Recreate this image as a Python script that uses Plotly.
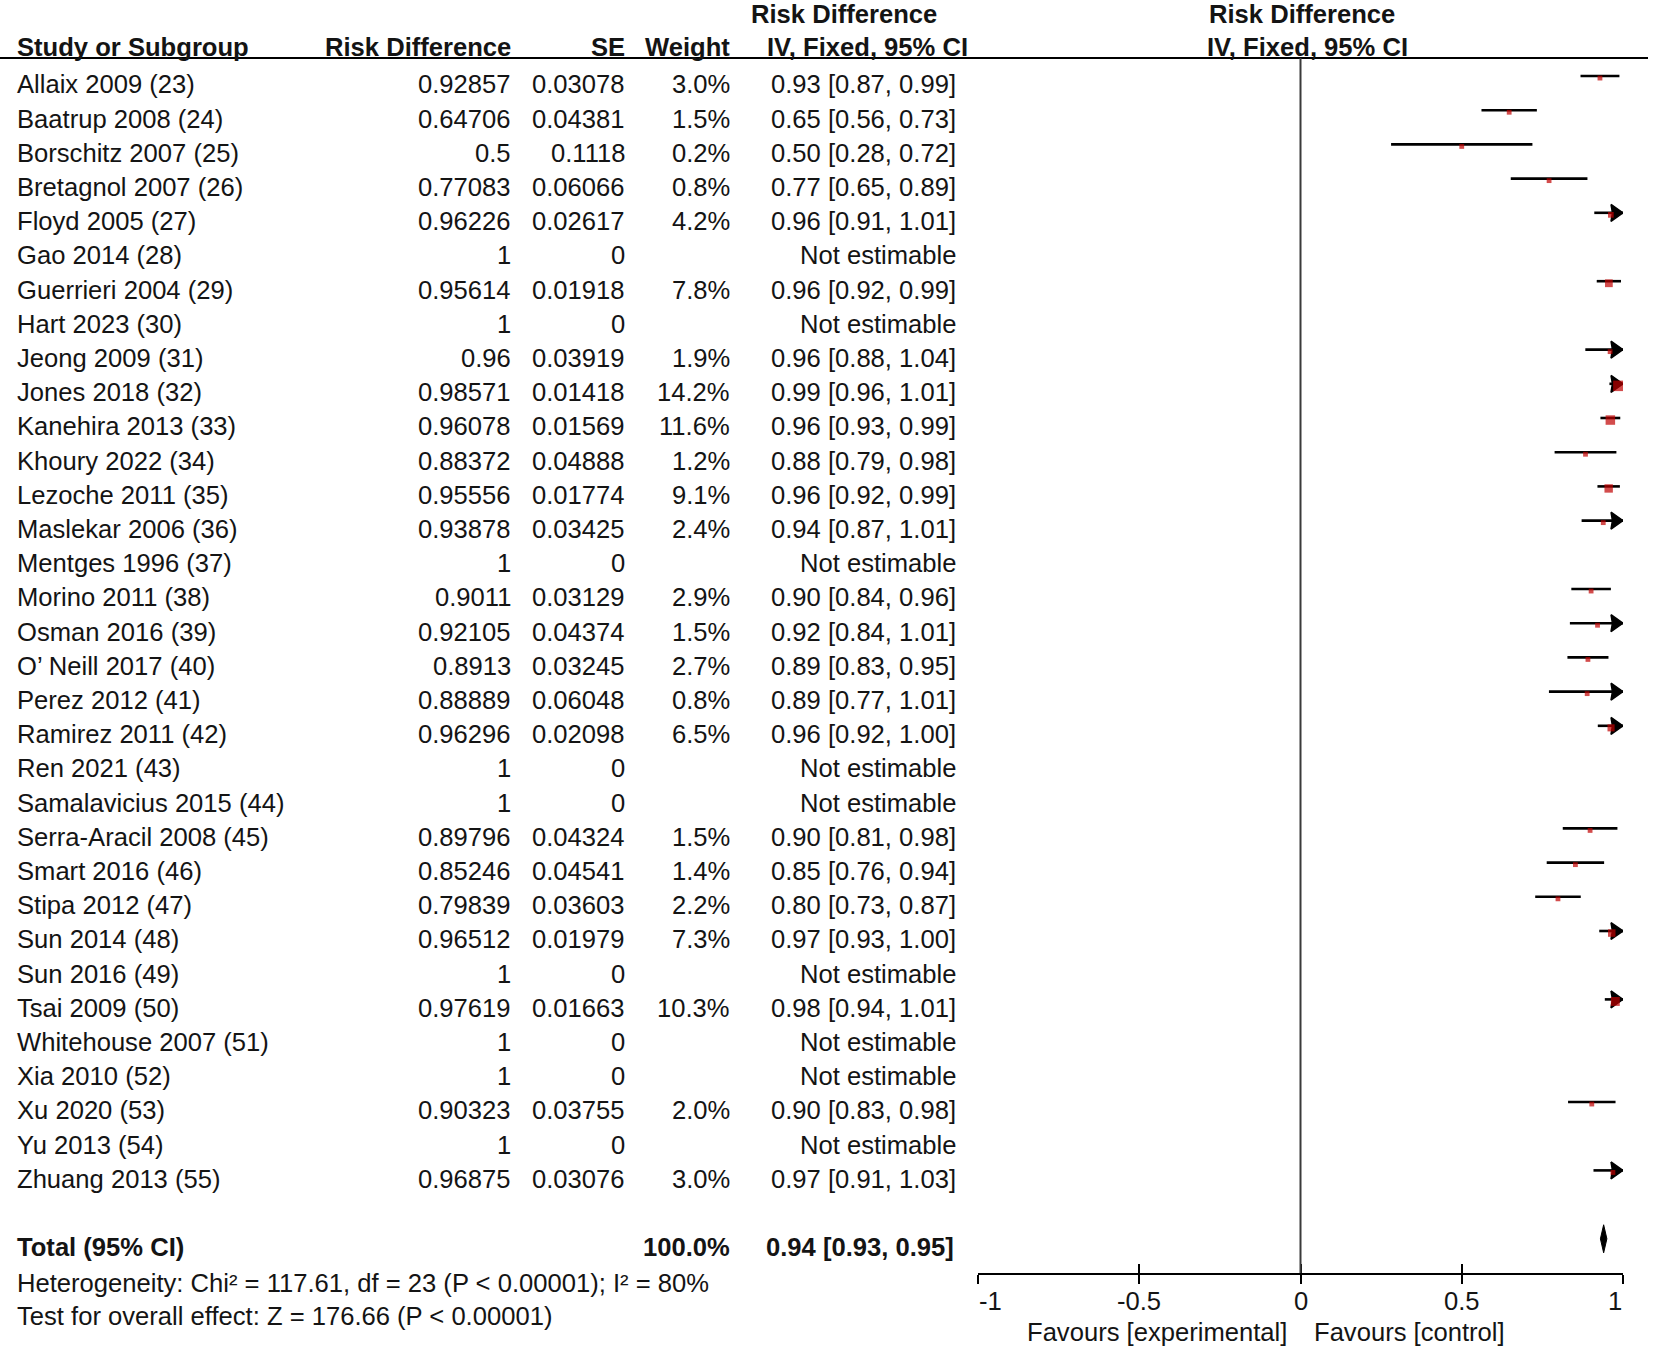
import plotly.graph_objects as go

studies = ["Allaix 2009 (23)", "Baatrup 2008 (24)", "Borschitz 2007 (25)", "Bretagnol 2007 (26)",
           "Floyd 2005 (27)", "Gao 2014 (28)", "Guerrieri 2004 (29)", "Hart 2023 (30)",
           "Jeong 2009 (31)", "Jones 2018 (32)", "Kanehira 2013 (33)", "Khoury 2022 (34)",
           "Lezoche 2011 (35)", "Maslekar 2006 (36)", "Mentges 1996 (37)", "Morino 2011 (38)",
           "Osman 2016 (39)", "O’ Neill 2017 (40)", "Perez 2012 (41)", "Ramirez 2011 (42)",
           "Ren 2021 (43)", "Samalavicius 2015 (44)", "Serra-Aracil 2008 (45)", "Smart 2016 (46)",
           "Stipa 2012 (47)", "Sun 2014 (48)", "Sun 2016 (49)", "Tsai 2009 (50)",
           "Whitehouse 2007 (51)", "Xia 2010 (52)", "Xu 2020 (53)", "Yu 2013 (54)", "Zhuang 2013 (55)"]
rd = [0.92857, 0.64706, 0.5, 0.77083, 0.96226, 1, 0.95614, 1, 0.96, 0.98571, 0.96078, 0.88372,
      0.95556, 0.93878, 1, 0.9011, 0.92105, 0.8913, 0.88889, 0.96296, 1, 1, 0.89796, 0.85246,
      0.79839, 0.96512, 1, 0.97619, 1, 1, 0.90323, 1, 0.96875]
se = [0.03078, 0.04381, 0.1118, 0.06066, 0.02617, 0, 0.01918, 0, 0.03919, 0.01418, 0.01569, 0.04888,
      0.01774, 0.03425, 0, 0.03129, 0.04374, 0.03245, 0.06048, 0.02098, 0, 0, 0.04324, 0.04541,
      0.03603, 0.01979, 0, 0.01663, 0, 0, 0.03755, 0, 0.03076]
weight = [3.0, 1.5, 0.2, 0.8, 4.2, None, 7.8, None, 1.9, 14.2, 11.6, 1.2, 9.1, 2.4, None, 2.9,
          1.5, 2.7, 0.8, 6.5, None, None, 1.5, 1.4, 2.2, 7.3, None, 10.3, None, None, 2.0, None, 3.0]
total_est, total_lo, total_hi = 0.94, 0.93, 0.95
total_label = "Total (95% CI)"
total_weight = "100.0%"
heterogeneity = "Heterogeneity: Chi² = 117.61, df = 23 (P < 0.00001); I² = 80%"
overall = "Test for overall effect: Z = 176.66 (P < 0.00001)"
tick_vals = [-1, -0.5, 0, 0.5, 1]
tick_text = ["-1", "-0.5", "0", "0.5", "1"]
favours_left = "Favours [experimental]"
favours_right = "Favours [control]"

W, H = 1654, 1346
FONT = "Liberation Sans, Arial, sans-serif"
FS = 25.6
TXT = "#141414"
RED = "#c00000"

def px(x):
    return x / W

def py(y):
    return 1 - y / H

n = len(studies)
total_row = 34
TEXT_OFF = 0.245

# plot geometry (pixels)
X0_PX, X1_PX = 978, 1623
ROW0_PX, ROW_STEP = 76, 34.2
TOP_PX, AXIS_PX = 58, 1273
PX_PER_UNIT = (X1_PX - X0_PX) / 2.0

fig = go.Figure()
ann = []

def add_text(x, y, text, xanchor="left", bold=False, yref="y", xref="paper"):
    ann.append(dict(x=x, y=y, xref=xref, yref=yref, text=("<b>%s</b>" % text) if bold else text,
                    showarrow=False, xanchor=xanchor, yanchor="middle", borderpad=0,
                    font=dict(family=FONT, size=FS, color=TXT)))

# Headers
add_text(px(844), py(14), "<b>Risk Difference</b>", "center", yref="paper")
add_text(px(16), py(47), "<b>Study or Subgroup</b>", "left", yref="paper")
add_text(px(512), py(47), "<b>Risk Difference</b>", "right", yref="paper")
add_text(px(626), py(47), "<b>SE</b>", "right", yref="paper")
add_text(px(731), py(47), "<b>Weight</b>", "right", yref="paper")
add_text(px(867), py(47), "<b>IV, Fixed, 95% CI</b>", "center", yref="paper")
add_text(px(1302), py(14), "<b>Risk Difference</b>", "center", yref="paper")
add_text(px(1307), py(47), "<b>IV, Fixed, 95% CI</b>", "center", yref="paper")

for i in range(n):
    yt = i + TEXT_OFF
    add_text(px(16), yt, studies[i], "left")
    add_text(px(512), yt, f"{rd[i]:g}", "right")
    add_text(px(626), yt, f"{se[i]:g}", "right")
    if weight[i] is None:
        add_text(px(957), yt, "Not estimable", "right")
    else:
        add_text(px(731), yt, f"{weight[i]:.1f}%", "right")
        lo = rd[i] - 1.96 * se[i]
        hi = rd[i] + 1.96 * se[i]
        add_text(px(957), yt, f"{rd[i]:.2f} [{lo:.2f}, {hi:.2f}]", "right")

# Total row
add_text(px(16), total_row + TEXT_OFF, total_label, "left", bold=True)
add_text(px(731), total_row + TEXT_OFF, total_weight, "right", bold=True)
add_text(px(955), total_row + TEXT_OFF, f"{total_est:.2f} [{total_lo:.2f}, {total_hi:.2f}]", "right", bold=True)
add_text(px(16), py(1283), heterogeneity, "left", yref="paper")
add_text(px(16), py(1316), overall, "left", yref="paper")
add_text(px(1288), py(1332), favours_left, "right", yref="paper")
add_text(px(1313), py(1332), favours_right, "left", yref="paper")

# axis tick labels (end labels sit inside the axis ends, as in RevMan)
for v, t in zip(tick_vals, tick_text):
    anchor = "left" if v == min(tick_vals) else ("right" if v == max(tick_vals) else "center")
    ann.append(dict(x=v, y=py(1301), xref="x", yref="paper", text=t, showarrow=False,
                    xanchor=anchor, yanchor="middle", borderpad=0,
                    font=dict(family=FONT, size=FS, color=TXT)))

x_max = max(tick_vals)
head_len = 12 / PX_PER_UNIT
head_half = 8.5 / ROW_STEP

# CI lines and arrowheads for CIs clipped at the axis end
for i in range(n):
    if weight[i] is None:
        continue
    lo = rd[i] - 1.96 * se[i]
    hi = rd[i] + 1.96 * se[i]
    hi_c = min(hi, x_max)
    fig.add_trace(go.Scatter(x=[lo, hi_c], y=[i, i], mode="lines",
                             line=dict(color="black", width=2.6), showlegend=False, hoverinfo="skip"))
    if hi > x_max:
        fig.add_trace(go.Scatter(
            x=[x_max - head_len, x_max, x_max - head_len, x_max - head_len * 0.88, x_max - head_len],
            y=[i - head_half, i, i + head_half, i, i - head_half],
            mode="lines", fill="toself", fillcolor="black", line=dict(color="black", width=1.5),
            showlegend=False, hoverinfo="skip"))

# squares
xs, ys, sz = [], [], []
for i in range(n):
    if weight[i] is None:
        continue
    xs.append(rd[i])
    ys.append(i + 0.06)
    sz.append(max(4.8, 10.5 * (weight[i] / 14.2) ** 0.5))
fig.add_trace(go.Scatter(x=xs, y=ys, mode="markers",
                         marker=dict(symbol="square", size=sz, color=RED, line=dict(width=0)),
                         showlegend=False, hoverinfo="skip"))

# diamond
dh = 0.41
fig.add_trace(go.Scatter(x=[total_lo, total_est, total_hi, total_est, total_lo],
                         y=[total_row, total_row - dh, total_row, total_row + dh, total_row],
                         mode="lines", fill="toself", fillcolor="black",
                         line=dict(color="black", width=1), showlegend=False, hoverinfo="skip"))

y_top = (TOP_PX - ROW0_PX) / ROW_STEP
y_bot = (AXIS_PX - ROW0_PX) / ROW_STEP
dom = [py(AXIS_PX), py(TOP_PX)]
xdom = [px(X0_PX), px(X1_PX)]

fig.update_layout(
    template="none",
    width=W, height=H, margin=dict(l=0, r=0, t=0, b=0, pad=0, autoexpand=False),
    paper_bgcolor="white", plot_bgcolor="white", showlegend=False,
    annotations=ann,
    xaxis=dict(domain=xdom, range=[-1, 1], showgrid=False, zeroline=False, automargin=False,
               showline=True, linecolor="black", linewidth=2,
               ticks="outside", ticklen=9, tickwidth=2, tickcolor="black",
               tickvals=tick_vals, showticklabels=False, anchor="y"),
    xaxis2=dict(domain=xdom, range=[-1, 1], overlaying="x", anchor="y", side="bottom",
                showgrid=False, zeroline=False, showline=False, automargin=False,
                ticks="inside", ticklen=9, tickwidth=2, tickcolor="black",
                tickvals=tick_vals, showticklabels=False),
    yaxis=dict(domain=dom, range=[y_bot, y_top], visible=False, showgrid=False, zeroline=False,
               automargin=False),
    shapes=[
        dict(type="line", xref="paper", yref="paper", x0=0, x1=px(1648), y0=py(TOP_PX), y1=py(TOP_PX),
             line=dict(color="black", width=2)),
        dict(type="line", xref="x", yref="paper", x0=0, x1=0, y0=py(AXIS_PX), y1=py(TOP_PX),
             line=dict(color="#3a3a3a", width=2)),
    ],
)
fig.add_trace(go.Scatter(x=[0], y=[None], xaxis="x2", yaxis="y", showlegend=False, hoverinfo="skip"))

fig.write_html("out.html", config={"displayModeBar": False, "responsive": False},
               post_script="document.body.style.margin='0';document.body.style.overflow='hidden';")
